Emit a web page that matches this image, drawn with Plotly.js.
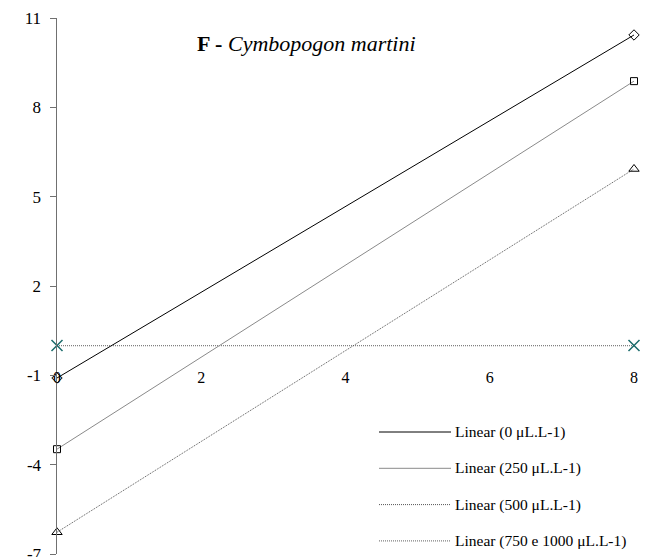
<!DOCTYPE html>
<html>
<head>
<meta charset="utf-8">
<script src="https://cdn.plot.ly/plotly-3.0.1.min.js"></script>
<style>html,body{margin:0;padding:0;background:#fff;}#chart{width:645px;height:557px;}</style>
</head>
<body>
<div id="chart"></div>
<script>
var xVals = [0, 8];
var y0 = [-1.09, 10.43];
var y250 = [-3.48, 8.88];
var y500 = [-6.27, 5.93];
var y750 = [0, 0];
var seriesNames = ['Linear (0 μL.L-1)', 'Linear (250 μL.L-1)', 'Linear (500 μL.L-1)', 'Linear (750 e 1000 μL.L-1)'];
var yTicks = [11, 8, 5, 2, -1, -4, -7];
var xTicks = [0, 2, 4, 6, 8];

var F = 'Liberation Serif';
var styles = [
  {line:{color:'#000000', width:1}, marker:{symbol:'diamond-open', size:8, color:'#000', line:{width:1, color:'#000'}}},
  {line:{color:'#8a8a8a', width:1}, marker:{symbol:'square-open', size:7, color:'#000', line:{width:1, color:'#000'}}},
  {line:{color:'#555555', width:1, dash:'1px,1px'}, marker:{symbol:'triangle-up-open', size:9, color:'#000', line:{width:1, color:'#000'}}},
  {line:{color:'#808080', width:1.2, dash:'1px,1px'}, marker:{symbol:'x-thin-open', size:11, color:'#1a6b6b', line:{width:1.5, color:'#1a6b6b'}}}
];
var ys = [y0, y250, y500, y750];
var order = [3, 2, 1, 0];
var traces = order.map(function(i){
  return {x:xVals, y:ys[i], type:'scatter', mode:'lines+markers', name:seriesNames[i],
    line:styles[i].line, marker:styles[i].marker, cliponaxis:false, showlegend:false, hoverinfo:'skip'};
});

var shapes = [], annotations = [];
var legTop = 432, legStep = 36.3;
seriesNames.forEach(function(n, i){
  var py = legTop + i*legStep;
  var yy = (554 - py)/536;
  shapes.push({type:'line', xref:'paper', yref:'paper', x0:(379-57)/577, x1:(451-57)/577, y0:yy, y1:yy,
    line:styles[i].line});
  annotations.push({xref:'paper', yref:'paper', x:(453-57)/577, y:yy, xanchor:'left', yanchor:'middle',
    text:n, showarrow:false, font:{family:F, size:15.5, color:'#000'}});
});
annotations.push({xref:'paper', yref:'paper', x:(306-57)/577, y:(554-43)/536, xanchor:'center', yanchor:'middle',
  text:'<b>F -</b> <i>Cymbopogon martini</i>', showarrow:false, font:{family:F, size:22, color:'#000'}});

var layout = {
  width:645, height:557,
  margin:{l:57, r:11, t:18, b:3},
  paper_bgcolor:'#fff', plot_bgcolor:'#fff',
  showlegend:false,
  xaxis:{range:[0,8], tickvals:xTicks, ticktext:xTicks.map(String), showgrid:false, zeroline:false, showline:false,
    ticks:'', anchor:'free', position:0.35, tickfont:{family:F, size:16, color:'#000'}},
  yaxis:{range:[-7,11], tickvals:yTicks, ticktext:yTicks.map(String), showgrid:false, zeroline:false, showline:true,
    linecolor:'#707070', linewidth:1.5, ticks:'outside', ticklen:6, tickcolor:'#707070', tickwidth:1,
    ticklabelstandoff:5, ticklabeloverflow:'allow',
    tickfont:{family:F, size:17, color:'#000'}},
  shapes:shapes, annotations:annotations
};
Plotly.newPlot('chart', traces, layout, {staticPlot:true, displayModeBar:false});
</script>
</body>
</html>
